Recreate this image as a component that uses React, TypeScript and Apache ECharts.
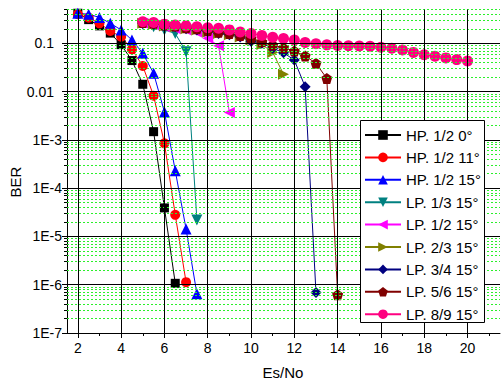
import React, { useEffect, useRef } from "react";
import * as echarts from "echarts";

// ---- data ----
const hpX = [2, 2.5, 3, 3.5, 4, 4.5, 5, 5.5, 6, 6.5, 7, 7.5];
const lpX = [5, 5.5, 6, 6.5, 7, 7.5, 8, 8.5, 9, 9.5, 10, 10.5, 11, 11.5, 12, 12.5, 13, 13.5, 14, 14.5, 15, 15.5, 16, 16.5, 17, 17.5, 18, 18.5, 19, 19.5, 20];

const hp12_0 = [0.42, 0.31, 0.23, 0.163, 0.094, 0.044, 0.0142, 0.00148, 3.9e-5, 1.07e-6];
const hp12_11 = [0.4, 0.34, 0.26, 0.18, 0.137, 0.075, 0.034, 0.0082, 8.5e-4, 2.8e-5, 1.13e-6];
const hp12_15 = [0.42, 0.4, 0.345, 0.26, 0.19, 0.117, 0.062, 0.024, 0.0038, 2.3e-4, 1.43e-5, 6.5e-7];
const lp13_15 = [0.25, 0.22, 0.19, 0.16, 0.067, 2.2e-5];
const lp12_15 = [0.26, 0.24, 0.22, 0.2, 0.19, 0.17, 0.127, 0.089, 0.0037];
const lp23_15 = [0.26, 0.25, 0.23, 0.22, 0.2, 0.19, 0.17, 0.16, 0.15, 0.135, 0.117, 0.095, 0.065, 0.023];
const lp34_15 = [0.26, 0.25, 0.23, 0.22, 0.2, 0.19, 0.175, 0.16, 0.15, 0.135, 0.11, 0.1, 0.079, 0.064, 0.045, 0.0126, 6.9e-7];
const lp56_15 = [0.27, 0.26, 0.24, 0.23, 0.21, 0.2, 0.185, 0.17, 0.16, 0.145, 0.125, 0.108, 0.092, 0.081, 0.069, 0.055, 0.0385, 0.0188, 6.2e-7];
const lp89_15 = [0.28, 0.27, 0.25, 0.24, 0.23, 0.22, 0.21, 0.205, 0.19, 0.172, 0.16, 0.146, 0.134, 0.126, 0.117, 0.104, 0.098, 0.093, 0.09, 0.089, 0.088, 0.087, 0.083, 0.079, 0.073, 0.065, 0.058, 0.054, 0.05, 0.046, 0.043];

const seriesNames = [
  "HP. 1/2 0°", "HP. 1/2 11°", "HP. 1/2 15°", "LP. 1/3 15°", "LP. 1/2 15°",
  "LP. 2/3 15°", "LP. 3/4 15°", "LP. 5/6 15°", "LP. 8/9 15°",
];

const xMajor = [2, 4, 6, 8, 10, 12, 14, 16, 18, 20];
const xMinor = [3, 5, 7, 9, 11, 13, 15, 17, 19, 21];
const yMajor = [1e-7, 1e-6, 1e-5, 1e-4, 1e-3, 0.01, 0.1];
const yMajorLabels = ["1E-7", "1E-6", "1E-5", "1E-4", "1E-3", "0.01", "0.1"];
const yMinorMult = [2, 3, 4, 5, 6, 7, 8, 9];

const FONT = "'Liberation Sans', Arial, sans-serif";
const PENTAGON = "path://M0,-10L9.51,-3.09L5.88,8.09L-5.88,8.09L-9.51,-3.09Z";

function zip(xs: number[], ys: number[]) {
  return ys.map((y, i) => [xs[i], y]);
}

export default function App() {
  const ref = useRef<HTMLDivElement>(null);
  useEffect(() => {
    if (!ref.current) return;
    const chart = echarts.init(ref.current, null, { renderer: "svg" });

    const yMinor: number[] = [];
    for (let e = -7; e <= -1; e++) {
      for (const m of yMinorMult) {
        const v = m * Math.pow(10, e);
        if (v <= 0.5 + 1e-9) yMinor.push(parseFloat(v.toPrecision(3)));
      }
    }

    const gridSeries: any = {
      type: "line",
      name: "_grid",
      data: [],
      silent: true,
      markLine: {
        silent: true,
        symbol: "none",
        precision: 12,
        label: { show: false },
        animation: false,
        data: [
          ...yMinor.map((v) => ({ yAxis: v, lineStyle: { color: "#2bf02b", width: 1, type: [2, 2] } })),
          ...xMajor.map((v) => ({ xAxis: v, lineStyle: { color: "#000", width: 1, type: "solid" } })),
          ...yMajor.map((v) => ({ yAxis: v, lineStyle: { color: "#000", width: 1, type: "solid" } })),
        ],
      },
    };

    const styles = [
      { data: zip(hpX, hp12_0), color: "#000000", symbol: "rect", size: 9, rot: 0 },
      { data: zip(hpX, hp12_11), color: "#ff0000", symbol: "circle", size: 10, rot: 0 },
      { data: zip(hpX, hp12_15), color: "#0000ff", symbol: "triangle", size: 11, rot: 0 },
      { data: zip(lpX, lp13_15), color: "#008080", symbol: "triangle", size: 11, rot: 180 },
      { data: zip(lpX, lp12_15), color: "#ff00ff", symbol: "triangle", size: 11, rot: 90 },
      { data: zip(lpX, lp23_15), color: "#808000", symbol: "triangle", size: 11, rot: -90 },
      { data: zip(lpX, lp34_15), color: "#000080", symbol: "diamond", size: 11, rot: 0 },
      { data: zip(lpX, lp56_15), color: "#800000", symbol: PENTAGON, size: 11, rot: 0 },
      { data: zip(lpX, lp89_15), color: "#ff0080", symbol: "circle", size: 11, rot: 0 },
    ];

    const dataSeries = styles.map((s, i) => ({
      type: "line",
      name: seriesNames[i],
      data: s.data,
      symbol: s.symbol,
      symbolSize: s.size,
      symbolRotate: s.rot,
      showAllSymbol: true,
      color: s.color,
      lineStyle: { color: s.color, width: 1 },
      itemStyle: { color: s.color },
      emphasis: { disabled: true },
    }));

    const labelFmt = (v: number) => {
      const idx = Math.round(Math.log10(v)) + 7;
      const lab = yMajorLabels[idx];
      if (lab === undefined) return "";
      return idx >= 5 ? "{p|" + lab + "}" : lab;
    };

    chart.setOption({
      animation: false,
      backgroundColor: "#ffffff",
      grid: { left: 67, right: 1, top: 9.6, bottom: 46, containLabel: false },
      xAxis: [
        {
          type: "value", min: 1.5, max: 21.5, position: "bottom",
          axisLine: { show: true, onZero: false, lineStyle: { color: "#000", width: 1 } },
          axisTick: { show: true, customValues: xMajor, length: 5, lineStyle: { color: "#000", width: 1 } },
          axisLabel: { customValues: xMajor, fontSize: 14, color: "#000", fontFamily: FONT, margin: 8 },
          splitLine: { show: false },
        },
        {
          type: "value", min: 1.5, max: 21.5, position: "bottom",
          axisLine: { show: false },
          axisTick: { show: true, customValues: xMinor, length: 3, lineStyle: { color: "#000", width: 1 } },
          axisLabel: { show: false },
          splitLine: { show: false },
        },
      ],
      yAxis: [
        {
          type: "log", logBase: 10, min: 1e-7, max: 0.5, position: "left",
          axisLine: { show: true, onZero: false, lineStyle: { color: "#000", width: 1 } },
          axisTick: { show: true, customValues: yMajor, length: 5, lineStyle: { color: "#000", width: 1 } },
          axisLabel: {
            customValues: yMajor, fontSize: 14, color: "#000", fontFamily: FONT, margin: 5,
            formatter: labelFmt,
            rich: { p: { fontSize: 14, color: "#000", fontFamily: FONT, padding: [0, 8, 0, 0] } },
          },
          splitLine: { show: false },
        },
        {
          type: "log", logBase: 10, min: 1e-7, max: 0.5, position: "left",
          axisLine: { show: false },
          axisTick: { show: true, customValues: yMinor, length: 3, lineStyle: { color: "#000", width: 1 } },
          axisLabel: { show: false },
          splitLine: { show: false },
        },
      ],
      legend: {
        data: seriesNames,
        orient: "vertical",
        left: 364,
        top: 126,
        padding: 0,
        itemWidth: 36,
        itemHeight: 12,
        itemGap: 4.4,
        z: 10,
        textStyle: { fontSize: 15, fontFamily: FONT, color: "#000", lineHeight: 18 },
      },
      graphic: [
        {
          type: "rect", z: 8, zlevel: 0,
          shape: { x: 360.5, y: 120.5, width: 124, height: 202 },
          style: { fill: "#fff", stroke: "#000", lineWidth: 1 },
        },
        {
          type: "text", x: 15, y: 182, rotation: Math.PI / 2,
          style: { text: "BER", font: "15px " + FONT, fill: "#000", textAlign: "center", textVerticalAlign: "middle" },
        },
        {
          type: "text", x: 283, y: 372,
          style: { text: "Es/No", font: "15px " + FONT, fill: "#000", textAlign: "center", textVerticalAlign: "middle" },
        },
      ],
      series: [gridSeries, ...dataSeries],
    });
    return () => chart.dispose();
  }, []);
  return <div ref={ref} style={{ position: "fixed", left: 0, top: 0, width: 501, height: 379, background: "#fff" }} />;
}
